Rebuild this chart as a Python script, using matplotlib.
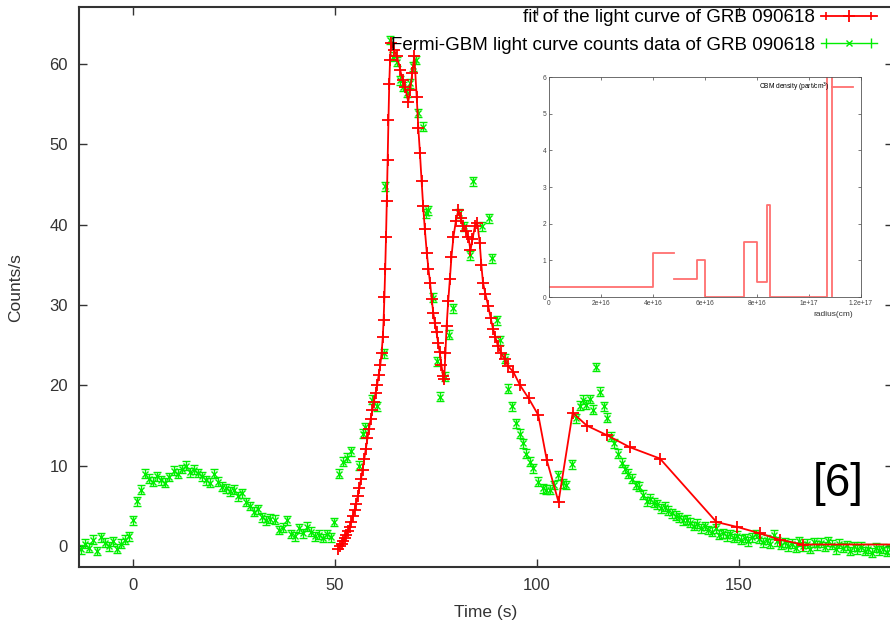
import numpy as np
import matplotlib
matplotlib.use('Agg')
import matplotlib.pyplot as plt
from matplotlib.ticker import FixedLocator, FixedFormatter
from matplotlib.lines import Line2D
from matplotlib.legend_handler import HandlerLine2D, HandlerTuple

plt.rcParams['font.family'] = ['Liberation Sans', 'DejaVu Sans']

# Fermi-GBM light curve counts data of GRB 090618 (time s, counts/s)
data_t = [-13, -12, -11, -10, -9, -8, -7, -6, -5, -4, -3, -2, -1, 0, 1, 2, 3, 4, 5, 6,
          7, 8, 9, 10, 11, 12, 13, 14, 15, 16, 17, 18, 19, 20, 21, 22, 23, 24, 25, 26,
          27, 28, 29, 30, 31, 32, 33, 34, 35, 36, 37, 38, 39, 40, 41, 42, 43, 44, 45, 46,
          47, 48, 49, 49.8, 51.0, 52.0, 53.0, 54.0, 55.8, 56.8, 57.4, 59.1, 60.3, 62.0,
          62.4, 63.6, 64.4, 65.2, 66.0, 66.8, 67.7, 68.5, 69.3, 70.0, 70.6, 71.8, 72.6,
          73.1, 74.3, 75.2, 76.0, 77.3, 78.1, 79.3, 80.6, 81.8, 83.4, 84.2, 86.4, 88.0,
          88.8, 90.0, 90.8, 92.0, 92.9, 93.7, 94.9, 95.7, 96.5, 97.3, 98.2, 99.0, 100.2,
          101.4, 102.3, 103.1, 104.3, 105.1, 106.3, 107.2, 108.6, 109.6, 110.5, 111.3,
          112.2, 113.0, 113.8, 114.7, 115.6, 116.5, 117.4, 118.2, 119.1, 120.0, 120.9,
          121.7, 122.6, 123.5, 124.4, 125.3, 126.2, 127.1, 128.0, 128.9, 129.8, 130.7,
          131.6, 132.5, 133.4, 134.3, 135.2, 136.1, 137.0, 137.9, 138.8, 139.7, 140.6,
          141.5, 142.4, 143.3, 144.2, 145.1, 146.0, 146.9, 147.8, 148.7, 149.6, 150.5,
          151.4, 152.3, 153.2, 154.1, 155.0, 155.9, 156.8, 157.7, 158.6, 159.5, 160.4,
          161.3, 162.2, 163.1, 164.0, 164.9, 165.8, 166.7, 167.6, 168.5, 169.4, 170.3,
          171.2, 172.1, 173.0, 173.9, 174.8, 175.7, 176.6, 177.5, 178.4, 179.3, 180.2,
          181.1, 182.0, 182.9, 183.8, 184.7, 185.6, 186.5, 187.4]
data_c = [-0.4, 0.3, -0.2, 0.8, -0.6, 1.1, 0.4, 0.0, 0.6, -0.3, 0.3, 0.8, 1.2, 3.2, 5.6, 7.0, 9.0, 8.4, 8.0, 8.7,
          8.2, 7.9, 8.6, 9.4, 9.0, 9.6, 10.0, 9.2, 9.5, 9.1, 8.7, 8.2, 7.9, 9.0, 8.0, 7.4, 7.2, 6.8, 7.0, 6.2,
          6.6, 5.5, 5.0, 4.3, 4.6, 3.6, 3.2, 3.4, 3.3, 2.0, 2.3, 3.2, 1.5, 1.2, 2.2, 1.6, 2.4, 1.8, 1.2, 1.4,
          1.0, 1.5, 1.1, 3.0, 9.0, 10.5, 11.0, 11.8, 10.0, 14.0, 14.8, 18.2, 17.4, 24.0,
          44.8, 63.0, 60.9, 60.3, 58.0, 57.2, 56.4, 57.6, 59.7, 60.5, 53.9, 52.2, 41.4,
          41.8, 30.9, 23.0, 18.6, 21.1, 26.3, 29.6, 41.4, 39.8, 36.2, 45.4, 39.8, 40.8,
          35.8, 28.1, 25.6, 23.3, 19.6, 17.4, 15.3, 14.0, 12.8, 11.5, 10.5, 9.7, 8.0,
          7.2, 7.0, 7.0, 7.6, 8.8, 7.8, 7.6, 10.2, 15.9, 17.5, 18.2,
          17.6, 18.3, 17.0, 22.3, 19.2, 17.4, 16.0, 13.6, 12.8, 11.5, 10.4,
          9.6, 9.0, 8.4, 7.6, 7.4, 6.4, 5.6, 5.9, 5.4, 5.2, 4.7,
          4.9, 4.4, 4.1, 3.8, 3.6, 3.2, 3.3, 2.9, 2.5, 2.8, 2.2,
          2.5, 2.0, 1.8, 2.2, 1.4, 1.6, 1.2, 1.5, 1.0, 1.3, 0.8,
          1.0, 0.6, 1.1, 1.5, 0.9, 0.5, 0.8, 0.3, 1.4, 0.6, 0.2,
          0.5, 0.0, 0.3, -0.2, 0.6, 0.0, 0.3, -0.3, 0.5, 0.1, 0.4,
          -0.1, 0.6, 0.2, -0.4, 0.3, -0.2, 0.1, -0.6, 0.0, -0.4, -0.1,
          -0.6, -0.3, -0.8, -0.2, -0.5, -0.3, -0.7, -0.4]
data_err = 0.55

# fit of the light curve
fit_t = [50.8, 51.2, 51.6, 52.0, 52.4, 52.8, 53.2, 53.6, 54.0, 54.4, 54.8, 55.2, 55.6, 56.0,
         56.4, 56.8, 57.2, 57.6, 58.0, 58.4, 58.8, 59.2, 59.6, 60.0, 60.4, 60.8, 61.2, 61.5,
         61.8, 62.0, 62.2, 62.4, 62.6, 62.8, 63.0, 63.2, 63.4, 63.6, 63.9, 64.5, 65.3, 66.1,
         66.7, 67.3, 68.1, 68.6, 69.1, 69.6, 70.2, 70.6, 71.0, 71.4, 71.8, 72.2, 72.7, 73.1,
         73.5, 73.9, 74.3, 74.7, 75.1, 75.5, 75.9, 76.3, 76.7, 77.0, 77.3, 77.6, 78.0, 78.4,
         78.8, 79.3, 79.9, 80.5, 81.1, 81.7, 82.3, 83.0, 83.5, 84.0, 84.6, 85.2, 85.8, 86.2,
         86.6, 87.2, 87.9, 88.5, 89.1, 89.7, 90.3, 91.1, 92.0, 92.8, 94.1, 95.8, 97.9, 100.3,
         102.4, 105.3, 108.8, 112.3, 117.3, 123.0, 130.4, 144.4, 149.4, 155.1, 160.1, 165.8,
         190.0]
fit_c = [-0.3, 0.0, 0.3, 0.6, 1.0, 1.4, 1.9, 2.4, 3.0, 3.7, 4.5, 5.3, 6.2, 7.2,
         8.3, 9.5, 10.8, 12.1, 13.4, 14.6, 15.8, 16.9, 17.9, 19.0, 20.1, 21.3, 22.6, 24.0,
         26.0, 28.1, 31.0, 34.5, 38.5, 43.0, 48.0, 53.0, 57.5, 60.5, 62.6, 61.8, 61.0, 59.3,
         58.0, 57.2, 55.3, 56.8, 58.9, 61.0, 55.9, 52.0, 48.9, 45.5, 42.3, 39.5, 36.5, 34.5,
         32.8, 30.8, 29.0, 27.8, 26.6, 25.3, 24.1, 22.6, 21.2, 20.8, 24.0, 27.4, 30.5, 33.2,
         36.0, 38.5, 40.5, 41.8, 40.8, 39.8, 39.2, 38.5, 36.8, 38.2, 39.8, 40.2, 37.7, 35.0,
         32.8, 31.4, 29.9, 28.4, 27.0, 26.0, 24.9, 24.0, 23.3, 22.4, 21.7, 20.0, 18.4, 16.3,
         10.7, 5.5, 16.6, 15.0, 13.8, 12.3, 10.9, 3.0, 2.4, 1.6, 0.8, 0.2,
         0.2]

# inset: CBM density profile (radius edges in cm, density in part/cm^3)
r_edges = [0.0, 4.0e16, 4.8e16, 5.7e16, 6.0e16, 7.5e16, 8.0e16, 8.4e16, 8.5e16, 10.7e16, 10.9e16]
density = [0.28, 1.2, 0.48, 1.0, 0.0, 1.5, 0.4, 2.5, 0.0, 10.0]
r_ticks = [0, 2e16, 4e16, 6e16, 8e16, 1e17, 1.2e17]
r_ticklabels = ['0', '2e+16', '4e+16', '6e+16', '8e+16', '1e+17', '1.2e+17']

W, H = 890, 624
fig = plt.figure(figsize=(8.9, 6.24), dpi=100)
ax = fig.add_axes([79 / W, 1 - 567 / H, (893 - 79) / W, 560 / H])

red = '#ff0000'
green = '#00ee00'

ax.errorbar(data_t, data_c, yerr=data_err, fmt='x', color=green, ms=5, mew=1.0,
            elinewidth=1.0, capsize=3, capthick=1.0, zorder=2)
ax.plot(fit_t, fit_c, '-', color=red, lw=1.3, marker='+', ms=8, mew=1.3, zorder=3)

ax.set_xlim(-13.4, 188.1)
ax.set_ylim(-2.6, 67.1)
ax.set_xticks([0, 50, 100, 150])
ax.set_yticks([0, 10, 20, 30, 40, 50, 60])
ax.tick_params(direction='in', length=6, width=1.0, top=True, right=True,
               labelsize=12, colors='#333333', pad=8)
for s in ax.spines.values():
    s.set_linewidth(1.5)
    s.set_color('#333333')

# gnuplot-like key samples
fit_key = Line2D([], [], color=red, lw=1.3, marker='+', ms=8, mew=1.3)
fit_caps = Line2D([], [], color=red, lw=0, marker='|', ms=6, mew=1.2)
data_key = Line2D([], [], color=green, lw=1.0, marker='x', ms=5, mew=1.0)
data_caps = Line2D([], [], color=green, lw=0, marker='|', ms=7, mew=1.0)
hmap = {fit_caps: HandlerLine2D(numpoints=2), data_caps: HandlerLine2D(numpoints=2),
        tuple: HandlerTuple(ndivide=1, pad=0)}
ax.legend(handles=[(fit_key, fit_caps), (data_key, data_caps)],
          labels=['fit of the light curve of GRB 090618',
                  'Fermi-GBM light curve counts data of GRB 090618'],
          handler_map=hmap, loc='upper right', bbox_to_anchor=(877 / W, 1 - 9 / H),
          bbox_transform=fig.transFigure, frameon=False, markerfirst=False, fontsize=13.5,
          handlelength=3.0, handletextpad=0.3, labelspacing=0.55, borderpad=0, borderaxespad=0)

fig.text(16 / W, 1 - 288 / H, 'Counts/s', rotation=90, ha='center', va='center',
         fontsize=12.5, color='#333333')
fig.text(486 / W, 1 - 613 / H, 'Time (s)', ha='center', va='center', fontsize=12.5, color='#333333')
fig.text(838 / W, 1 - 484 / H, '[6]', ha='center', va='center', fontsize=33, color='black')

# inset
axi = fig.add_axes([549 / W, 1 - 297 / H, 312 / W, 220 / H])
xs, ys = [], []
for i, v in enumerate(density):
    if i == 2:
        xs.append(np.nan)
        ys.append(np.nan)
    xs += [r_edges[i], r_edges[i + 1]]
    ys += [v, v]
xs.append(r_edges[-1])
ys.append(0.0)
axi.plot(xs, ys, color='#ff7070', lw=1.3, label='CBM density (part/cm$^3$)')
axi.set_xlim(0, 1.2e17)
axi.set_ylim(0, 6)
axi.xaxis.set_major_locator(FixedLocator(r_ticks))
axi.xaxis.set_major_formatter(FixedFormatter(r_ticklabels))
axi.set_yticks([0, 1, 2, 3, 4, 5, 6])
axi.tick_params(direction='in', length=2.5, width=0.5, top=True, right=True,
                labelsize=4.8, colors='#444444', pad=2)
for s in axi.spines.values():
    s.set_linewidth(0.6)
    s.set_color('#555555')
axi.set_xlabel('radius(cm)', fontsize=6, color='#333333', labelpad=1)
axi.xaxis.set_label_coords(0.91, -0.065)
axi.legend(loc='upper right', bbox_to_anchor=(0.974, 0.985), frameon=False, markerfirst=False,
           fontsize=4.8, handlelength=3.2, handletextpad=0.3, borderpad=0, borderaxespad=0)

fig.savefig('out.png', dpi=100)
